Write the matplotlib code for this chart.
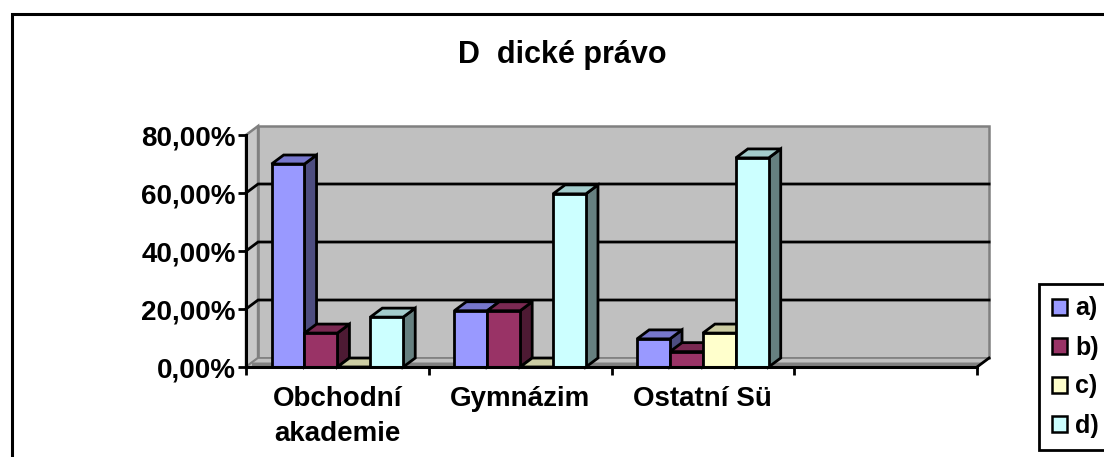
import matplotlib
matplotlib.use("Agg")
import matplotlib.pyplot as plt
from matplotlib.patches import Polygon, Rectangle, Patch
from matplotlib.ticker import FuncFormatter

plt.rcParams['font.family'] = ['Liberation Sans', 'DejaVu Sans']
plt.rcParams['font.weight'] = 'bold'

# ---------------- data ----------------
title = "D  dické právo"
categories = ["Obchodní\nakademie", "Gymnázim", "Ostatní Sü"]
series_names = ["a)", "b)", "c)", "d)"]
series_a = [70.0, 19.4, 9.7]
series_b = [11.7, 19.4, 5.3]
series_c = [0.0, 0.0, 11.7]
series_d = [17.2, 59.7, 72.1]
y_ticks = [0, 20, 40, 60, 80]

# ---------------- style ----------------
front_cols = ["#9999FF", "#993366", "#FFFFCC", "#CCFFFF"]
top_cols = ["#7777CC", "#7A2952", "#CCCCA3", "#A3CCCC"]
side_cols = ["#4D4D80", "#4D1A33", "#808066", "#668080"]
n_slots = 4
bar_w = 0.18
DX = 0.066   # depth offset in x data units
DY = 3.1     # depth offset in y data units

W, H = 1104, 457
fig = plt.figure(figsize=(W / 100, H / 100), dpi=100)
fig.patch.set_facecolor("white")

# outer chart border (cut by right/bottom edges)
fig.patches.append(Rectangle((12 / W, -0.1), 1.2, (H - 14) / H + 0.1,
                             transform=fig.transFigure, fill=False,
                             edgecolor="black", linewidth=2.2))

ax = fig.add_axes([246 / W, (H - 367) / H, 731 / W, 232 / H])
ax.set_facecolor("none")
xmin, xmax = -0.5, n_slots - 0.5
ax.set_xlim(xmin, xmax)
ymax = y_ticks[-1]
ax.set_ylim(0, ymax)

# back wall
ax.add_patch(Polygon([(xmin + DX, DY), (xmax + DX, DY), (xmax + DX, ymax + DY),
                      (xmin + DX, ymax + DY)], closed=True, facecolor="#C0C0C0",
                     edgecolor="#808080", lw=1.8, clip_on=False, zorder=1))
# left side wall
ax.add_patch(Polygon([(xmin, 0), (xmin + DX, DY), (xmin + DX, ymax + DY), (xmin, ymax)],
                     closed=True, facecolor="#C8C8C8", edgecolor="#808080", lw=1.8,
                     clip_on=False, zorder=1))
# floor
ax.add_patch(Polygon([(xmin, 0), (xmax, 0), (xmax + DX, DY), (xmin + DX, DY)],
                     closed=True, facecolor="#C0C0C0", edgecolor="#808080", lw=1.2,
                     clip_on=False, zorder=1.5))
ax.add_patch(Polygon([(xmin + DX * 0.5, 0), (xmax, 0), (xmax + DX * 0.5, DY * 0.5),
                      (xmin + DX * 0.5, DY * 0.5)],
                     closed=True, facecolor="#808080", edgecolor="none",
                     clip_on=False, zorder=1.6))
ax.plot([xmax, xmax + DX], [0, DY], color="black", lw=2, clip_on=False, zorder=2)

# gridlines on side wall + back wall
for v in y_ticks[1:-1]:
    ax.plot([xmin, xmin + DX, xmax + DX], [v, v + DY, v + DY], color="black",
            lw=2, clip_on=False, zorder=2, solid_joinstyle="miter")

# bars
all_series = [series_a, series_b, series_c, series_d]
n_ser = len(all_series)
z = 3
for i in range(len(categories)):
    for j, ser in enumerate(all_series):
        v = ser[i]
        x0 = i - n_ser * bar_w / 2 + j * bar_w
        ax.add_patch(Polygon([(x0 + bar_w, 0), (x0 + bar_w + DX, DY),
                              (x0 + bar_w + DX, v + DY), (x0 + bar_w, v)],
                             closed=True, facecolor=side_cols[j], edgecolor="black",
                             lw=2, clip_on=False, zorder=z, joinstyle="miter"))
        ax.add_patch(Polygon([(x0, v), (x0 + bar_w, v), (x0 + bar_w + DX, v + DY),
                              (x0 + DX, v + DY)],
                             closed=True, facecolor=top_cols[j], edgecolor="black",
                             lw=2, clip_on=False, zorder=z, joinstyle="miter"))
        ax.bar(x0, v, width=bar_w, align="edge", color=front_cols[j],
               edgecolor="black", linewidth=2, zorder=z + 0.5)
        z += 1

# axes styling
for s in ["top", "right"]:
    ax.spines[s].set_visible(False)
for s in ["left", "bottom"]:
    ax.spines[s].set_linewidth(2.2)
    ax.spines[s].set_zorder(100)
    ax.spines[s].set_capstyle("projecting")

ax.set_yticks(y_ticks)
ax.yaxis.set_major_formatter(FuncFormatter(lambda v, p: f"{v:.2f}".replace(".", ",") + "%"))
ax.tick_params(axis="y", direction="out", length=6, width=2, pad=1.5, labelsize=20)

ax.set_xticks([xmin + k for k in range(n_slots + 1)])
ax.set_xticklabels([""] * (n_slots + 1))
ax.tick_params(axis="x", which="major", direction="out", length=6, width=2)
ax.set_xticks(list(range(len(categories))), minor=True)
ax.set_xticklabels(categories, minor=True, fontsize=20, linespacing=1.45)
ax.tick_params(axis="x", which="minor", length=0, pad=14)
for lbl in ax.get_yticklabels() + ax.get_xticklabels(minor=True):
    lbl.set_fontweight("bold")

fig.text(562 / W, (H - 63) / H, title, ha="center", va="baseline",
         fontsize=22, fontweight="bold")

handles = [Patch(facecolor=c, edgecolor="black", linewidth=1.8) for c in front_cols]
leg = fig.legend(handles, series_names, loc="upper left",
                 bbox_to_anchor=(1039 / W, (H - 284) / H), bbox_transform=fig.transFigure,
                 frameon=True, fancybox=False, edgecolor="black", framealpha=1,
                 prop={"size": 18, "weight": "bold"}, handlelength=0.6, handleheight=0.6,
                 handletextpad=0.35, labelspacing=0.6, borderpad=0.5, borderaxespad=0)
leg.get_frame().set_linewidth(2)

fig.savefig("out.png", dpi=100, facecolor="white")
